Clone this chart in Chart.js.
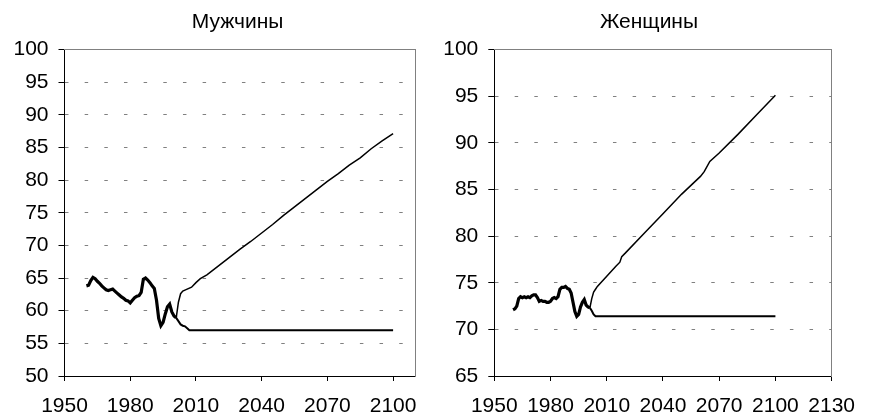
<!DOCTYPE html>
<html>
<head>
<meta charset="utf-8">
<script src="https://cdn.jsdelivr.net/npm/chart.js@4.4.1/dist/chart.umd.min.js"></script>
<style>
    html, body { margin: 0; padding: 0; background: #fff; }
    body { width: 869px; height: 415px; position: relative; overflow: hidden; }
    .box { position: absolute; top: 0; height: 415px; }
</style>
</head>
<body>
<div class="box" style="left:0;width:475px"><canvas id="menChart" width="475" height="415"></canvas></div>
<div class="box" style="left:430px;width:438px"><canvas id="womenChart" width="438" height="415"></canvas></div>
<script>
// observed data 1960-2001
const histYears = [1960, 1961, 1962, 1963, 1964, 1965, 1966, 1967, 1968, 1969,
    1970, 1971, 1972, 1973, 1974, 1975, 1976, 1977, 1978, 1979,
    1980, 1981, 1982, 1983, 1984, 1985, 1986, 1987, 1988, 1989,
    1990, 1991, 1992, 1993, 1994, 1995, 1996, 1997, 1998, 1999,
    2000, 2001];
const menHist = [63.8, 63.9, 64.6, 65.1, 64.9, 64.5, 64.2, 63.8, 63.5, 63.2,
    63.1, 63.2, 63.3, 63.0, 62.7, 62.4, 62.1, 61.9, 61.6, 61.5,
    61.2, 61.6, 62.0, 62.2, 62.3, 62.8, 64.8, 65.0, 64.7, 64.3,
    63.8, 63.4, 61.6, 58.8, 57.7, 58.2, 59.5, 60.6, 61.0, 59.8,
    59.2, 58.9];
const womenHist = [72.1, 72.2, 72.5, 73.3, 73.5, 73.4, 73.5, 73.4, 73.5, 73.4,
    73.6, 73.7, 73.7, 73.4, 73.0, 73.1, 73.0, 73.0, 72.9, 72.9,
    73.0, 73.3, 73.4, 73.3, 73.5, 74.3, 74.5, 74.5, 74.6, 74.4,
    74.3, 73.9, 72.9, 71.9, 71.4, 71.6, 72.4, 72.9, 73.2, 72.6,
    72.4, 72.3];

// projections
const menHighYears = [2001, 2002, 2003, 2004, 2006, 2008, 2010, 2012, 2015, 2020, 2025, 2030,
    2035, 2040, 2045, 2050, 2055, 2060, 2065, 2070, 2075, 2080, 2085, 2090, 2095, 2100];
const menHigh = [58.9, 61.3, 62.6, 63.0, 63.3, 63.6, 64.3, 64.9, 65.5, 66.8, 68.1, 69.4,
    70.6, 71.9, 73.2, 74.6, 75.9, 77.2, 78.5, 79.8, 81.0, 82.3, 83.4, 84.8, 86.0, 87.1];
const menLowYears = [2001, 2002, 2003, 2004, 2005, 2006, 2007, 2100];
const menLow = [58.9, 58.4, 57.9, 57.7, 57.6, 57.3, 57.0, 57.0];

const womenHighYears = [2001, 2002, 2003, 2004, 2005, 2010, 2015, 2017, 2018, 2020, 2030,
    2040, 2050, 2060, 2062, 2065, 2070, 2080, 2090, 2100];
const womenHigh = [72.3, 73.3, 74.0, 74.3, 74.6, 75.7, 76.8, 77.2, 77.8, 78.2, 80.3,
    82.4, 84.5, 86.4, 86.9, 88.0, 88.9, 90.9, 93.0, 95.1];
const womenLowYears = [2001, 2002, 2003, 2004, 2100];
const womenLow = [72.3, 72.0, 71.6, 71.4, 71.4];

const xTickLabels = [1950, 1980, 2010, 2040, 2070, 2100, 2130];

const FONT = "'Liberation Sans', Arial, sans-serif";

function pairs(xs, ys) {
    return xs.map((x, i) => ({ x: x, y: ys[i] }));
}

function lineSet(xs, ys, width) {
    return {
        data: pairs(xs, ys),
        borderColor: '#000',
        borderWidth: width,
        pointRadius: 0,
        tension: 0,
        fill: false
    };
}

function makeChart(id, cfg) {
    const ctx = document.getElementById(id).getContext('2d');
    return new Chart(ctx, {
        type: 'line',
        data: {
            datasets: [
                lineSet(cfg.lowYears, cfg.low, 2),
                lineSet(cfg.highYears, cfg.high, 1.5),
                lineSet(histYears, cfg.hist, 3.2)
            ]
        },
        options: {
            responsive: false,
            animation: false,
            layout: { padding: 0 },
            plugins: {
                legend: { display: false },
                tooltip: { enabled: false },
                title: {
                    display: true,
                    text: cfg.title,
                    fullSize: true,
                    color: '#000',
                    font: { family: FONT, size: 21, weight: 'normal' },
                    padding: { top: 9.6, bottom: 14.7 }
                }
            },
            scales: {
                x: {
                    type: 'linear',
                    position: 'bottom',
                    min: xTickLabels[0],
                    max: cfg.xMax,
                    afterFit: s => { s.height = 39; },
                    grid: {
                        drawOnChartArea: false,
                        drawTicks: true,
                        tickLength: 5,
                        tickColor: '#000'
                    },
                    border: { color: '#000', width: 1 },
                    ticks: {
                        stepSize: 30,
                        includeBounds: false,
                        autoSkip: false,
                        maxRotation: 0,
                        padding: 13,
                        color: '#000',
                        font: { family: FONT, size: 21 },
                        callback: v => xTickLabels.includes(v) ? String(v) : ''
                    }
                },
                y: {
                    min: cfg.yMin,
                    max: 100,
                    afterFit: s => { s.width = cfg.yWidth; },
                    grid: {
                        color: c => (c.tick && (c.tick.value === 100 || c.tick.value === cfg.yMin)) ? 'rgba(0,0,0,0)' : '#808080',
                        lineWidth: 1,
                        drawTicks: true,
                        tickLength: 6,
                        tickColor: '#000',
                        tickBorderDash: []
                    },
                    border: { color: '#000', width: 1, dash: [3.5, 16.16] },
                    ticks: {
                        stepSize: 5,
                        padding: 10,
                        color: '#000',
                        font: { family: FONT, size: 21 }
                    }
                },
                xTop: {
                    type: 'linear',
                    position: 'top',
                    afterFit: s => { s.height = 0; },
                    grid: { display: false },
                    ticks: { display: false },
                    border: { color: '#808080', width: 1 }
                },
                yRight: {
                    type: 'linear',
                    position: 'right',
                    afterFit: s => { s.width = cfg.rightGap; },
                    grid: { display: false },
                    ticks: { display: false },
                    border: { color: '#808080', width: 1 }
                }
            }
        }
    });
}

makeChart('menChart', {
    title: 'Мужчины',
    hist: menHist,
    highYears: menHighYears, high: menHigh,
    lowYears: menLowYears, low: menLow,
    yMin: 50, xMax: 2110,
    yWidth: 64.5, rightGap: 60
});

makeChart('womenChart', {
    title: 'Женщины',
    hist: womenHist,
    highYears: womenHighYears, high: womenHigh,
    lowYears: womenLowYears, low: womenLow,
    yMin: 65, xMax: 2130,
    yWidth: 64.3, rightGap: 23
});
</script>
</body>
</html>
